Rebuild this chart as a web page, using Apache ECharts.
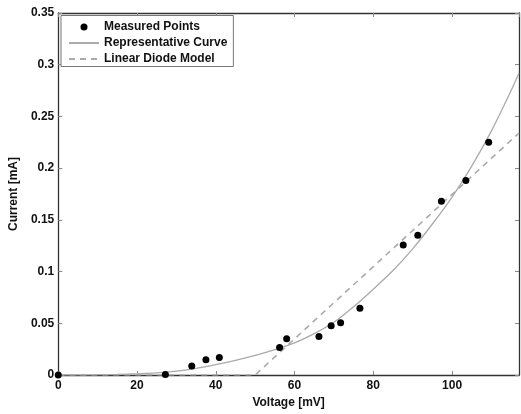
<!DOCTYPE html>
<html>
<head>
<meta charset="utf-8">
<script src="https://cdn.jsdelivr.net/npm/echarts@6/dist/echarts.min.js"></script>
<style>html,body{margin:0;padding:0;background:#fff}#c{width:521px;height:414px}</style>
</head>
<body>
<div id="c"></div>
<script>
// Measured points: voltage [mV], current [mA]
const measuredV = [0, 27.2, 33.9, 37.5, 40.9, 56.2, 58.0, 66.2, 69.3, 71.7, 76.6, 87.6, 91.3, 97.3, 103.5, 109.3];
const measuredI = [0, 0.0006, 0.0086, 0.0147, 0.0169, 0.0265, 0.035, 0.0373, 0.0475, 0.0504, 0.0645, 0.1258, 0.135, 0.168, 0.188, 0.225];
// Representative curve
const curveV = [0, 5, 10, 15, 20, 25, 30, 35, 40, 45, 50, 55, 60, 65, 70, 75, 80, 85, 90, 95, 100, 105, 110, 115, 117];
const curveI = [0, 0.0001, 0.0003, 0.0006, 0.0012, 0.002, 0.0038, 0.0064, 0.0100, 0.0142, 0.019, 0.0245, 0.031, 0.040, 0.051, 0.066, 0.083, 0.101, 0.122, 0.146, 0.172, 0.202, 0.236, 0.275, 0.292];
// Linear diode model
const linearV = [0, 50, 117];
const linearI = [0, 0, 0.234];
// Axis ticks
const xTicks = [0, 20, 40, 60, 80, 100];
const yTicks = [0, 0.05, 0.1, 0.15, 0.2, 0.25, 0.3, 0.35];
const seriesNames = ['Measured Points', 'Representative Curve', 'Linear Diode Model'];

const zip = (a, b) => a.map((v, i) => [v, b[i]]);
const font = 'Liberation Sans, Arial, Helvetica, sans-serif';
const axisCol = '#333';

const chart = echarts.init(document.getElementById('c'), null, {renderer: 'canvas'});
const baseX = {
  type: 'value', min: 0, max: 117, interval: 20,
  axisLine: {show: true, onZero: false, lineStyle: {color: axisCol, width: 1.3}},
  axisTick: {show: true, inside: true, length: 4, lineStyle: {color: '#888'}},
  splitLine: {show: false}
};
const baseY = {
  type: 'value', min: 0, max: 0.35, interval: 0.05,
  axisLine: {show: true, onZero: false, lineStyle: {color: axisCol, width: 1.3}},
  axisTick: {show: true, inside: true, length: 4, lineStyle: {color: '#888'}},
  splitLine: {show: false}
};
chart.setOption({
  backgroundColor: '#fff',
  animation: false,
  textStyle: {fontFamily: font},
  grid: {left: 57, right: 2, top: 13, bottom: 36, containLabel: false},
  legend: {
    orient: 'vertical', left: 61, top: 15.5,
    backgroundColor: '#fff',
    borderColor: '#777', borderWidth: 1,
    padding: [5.5, 6, 1.5, 7],
    itemGap: 4, itemWidth: 30, itemHeight: 7,
    itemStyle: {opacity: 0},
    textStyle: {fontFamily: font, fontWeight: 'bold', fontSize: 12, color: '#111'},
    data: [
      {name: seriesNames[0], icon: 'circle', itemStyle: {opacity: 1, color: '#000'}},
      {name: seriesNames[1]},
      {name: seriesNames[2]}
    ]
  },
  xAxis: [
    Object.assign({}, baseX, {
      position: 'bottom',
      name: 'Voltage [mV]', nameLocation: 'middle', nameGap: 22,
      nameTextStyle: {fontFamily: font, fontWeight: 'bold', fontSize: 12, color: '#111'},
      axisLabel: {show: true, margin: 5, showMaxLabel: false, fontFamily: font, fontWeight: 'bold', fontSize: 12, color: '#111',
        formatter: v => xTicks.includes(v) ? String(v) : ''}
    }),
    Object.assign({}, baseX, {position: 'top', axisLabel: {show: false}})
  ],
  yAxis: [
    Object.assign({}, baseY, {
      position: 'left',
      name: 'Current [mA]', nameLocation: 'middle', nameGap: 30,
      nameTextStyle: {fontFamily: font, fontWeight: 'bold', fontSize: 12, color: '#111'},
      axisLabel: {show: true, margin: 4, fontFamily: font, fontWeight: 'bold', fontSize: 12, color: '#111',
        formatter: v => { const t = yTicks.find(y => Math.abs(y - v) < 1e-9); return t === undefined ? '' : String(t); }}
    }),
    Object.assign({}, baseY, {position: 'right', axisLabel: {show: false}})
  ],
  series: [
    {
      name: seriesNames[0], type: 'scatter', xAxisIndex: 0, yAxisIndex: 0,
      data: zip(measuredV, measuredI), symbol: 'circle', symbolSize: 7,
      itemStyle: {color: '#000', opacity: 1}, z: 5
    },
    {
      name: seriesNames[1], type: 'line', xAxisIndex: 0, yAxisIndex: 0,
      data: zip(curveV, curveI), smooth: 0.3, showSymbol: false, symbol: 'none',
      lineStyle: {color: '#aaa', width: 1.3}, itemStyle: {color: '#aaa'}, z: 3
    },
    {
      name: seriesNames[2], type: 'line', xAxisIndex: 0, yAxisIndex: 0,
      data: zip(linearV, linearI), showSymbol: false, symbol: 'none',
      lineStyle: {color: '#aaa', width: 1.6, type: [6, 5]}, itemStyle: {color: '#aaa'}, z: 2
    }
  ]
});
</script>
</body>
</html>
